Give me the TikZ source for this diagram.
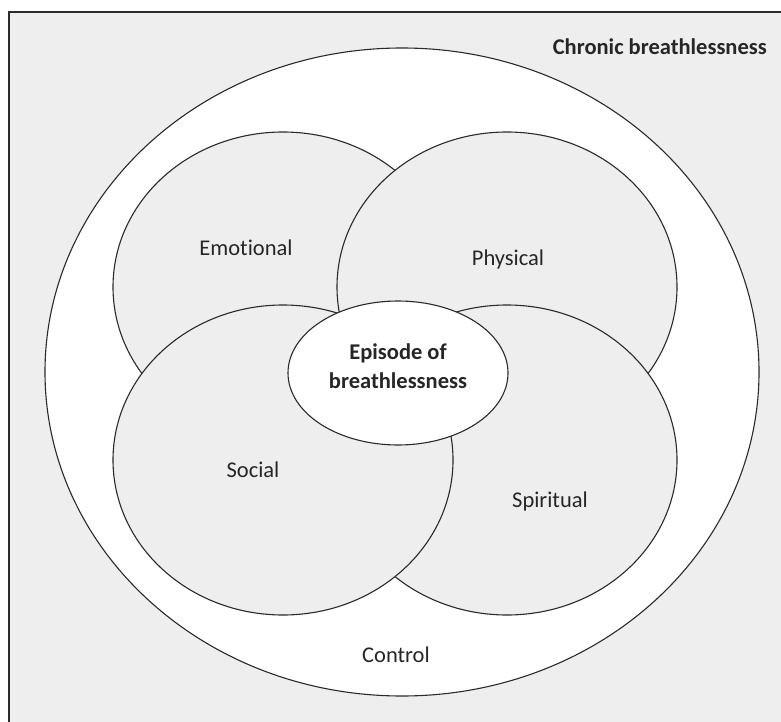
\documentclass[tikz,border=0pt]{standalone}
\usepackage{fontspec}
\setmainfont{Carlito}[Ligatures=NoCommon]
\usetikzlibrary{shapes.geometric}
\definecolor{panel}{HTML}{EEEEEE}
\definecolor{edge}{HTML}{2A2A2A}
\tikzset{
  outline/.style={draw=edge, line width=1.1pt},
  facet/.style={ellipse, outline, fill=panel, inner sep=0pt,
                minimum width=340pt, minimum height=310pt},
  txt/.style={font=\fontsize{22.5}{28.5}\selectfont, text=black!85, inner sep=0pt},
  boldtxt/.style={txt, font=\fontsize{22.5}{28.5}\selectfont\bfseries, align=center}
}
\begin{document}
\begin{tikzpicture}[x=1pt,y=-1pt]
  \useasboundingbox (0,0) rectangle (781,722);
  % frame and grey panel
  \begin{scope}
    \clip (0,0) rectangle (781,722);
    \draw[outline, line width=1.3pt, fill=panel] (9,12) rectangle (800,740);
  \end{scope}
  % outer circle: chronic breathlessness / control
  \node[ellipse, outline, fill=white, inner sep=0pt,
        minimum width=714pt, minimum height=648pt] (chronic) at (402,372) {};
  % four overlapping facets
  \node[facet] (emotional) at (283,287) {};
  \node[facet] (physical)  at (507,287) {};
  \node[facet] (spiritual) at (507,460) {};
  \node[facet] (social)    at (283,460) {};
  % central episode
  \node[ellipse, outline, fill=white, inner sep=0pt,
        minimum width=220pt, minimum height=144pt] (episode) at (398,373) {};
  % text
  \node[boldtxt, anchor=east] (chronictxt) at (767,47) {Chronic breathlessness};
  \node[txt] (emotionaltxt) at (246,248) {Emotional};
  \node[txt] (physicaltxt) at (508,260) {Physical};
  \node[txt] (socialtxt) at (253,470) {Social};
  \node[txt] (spiritualtxt) at (550,501) {Spiritual};
  \node[txt] (controltxt) at (396,655) {Control};
  \node[boldtxt] (episodetxt) at (398,366) {Episode of\\breathlessness};
\end{tikzpicture}
\end{document}
